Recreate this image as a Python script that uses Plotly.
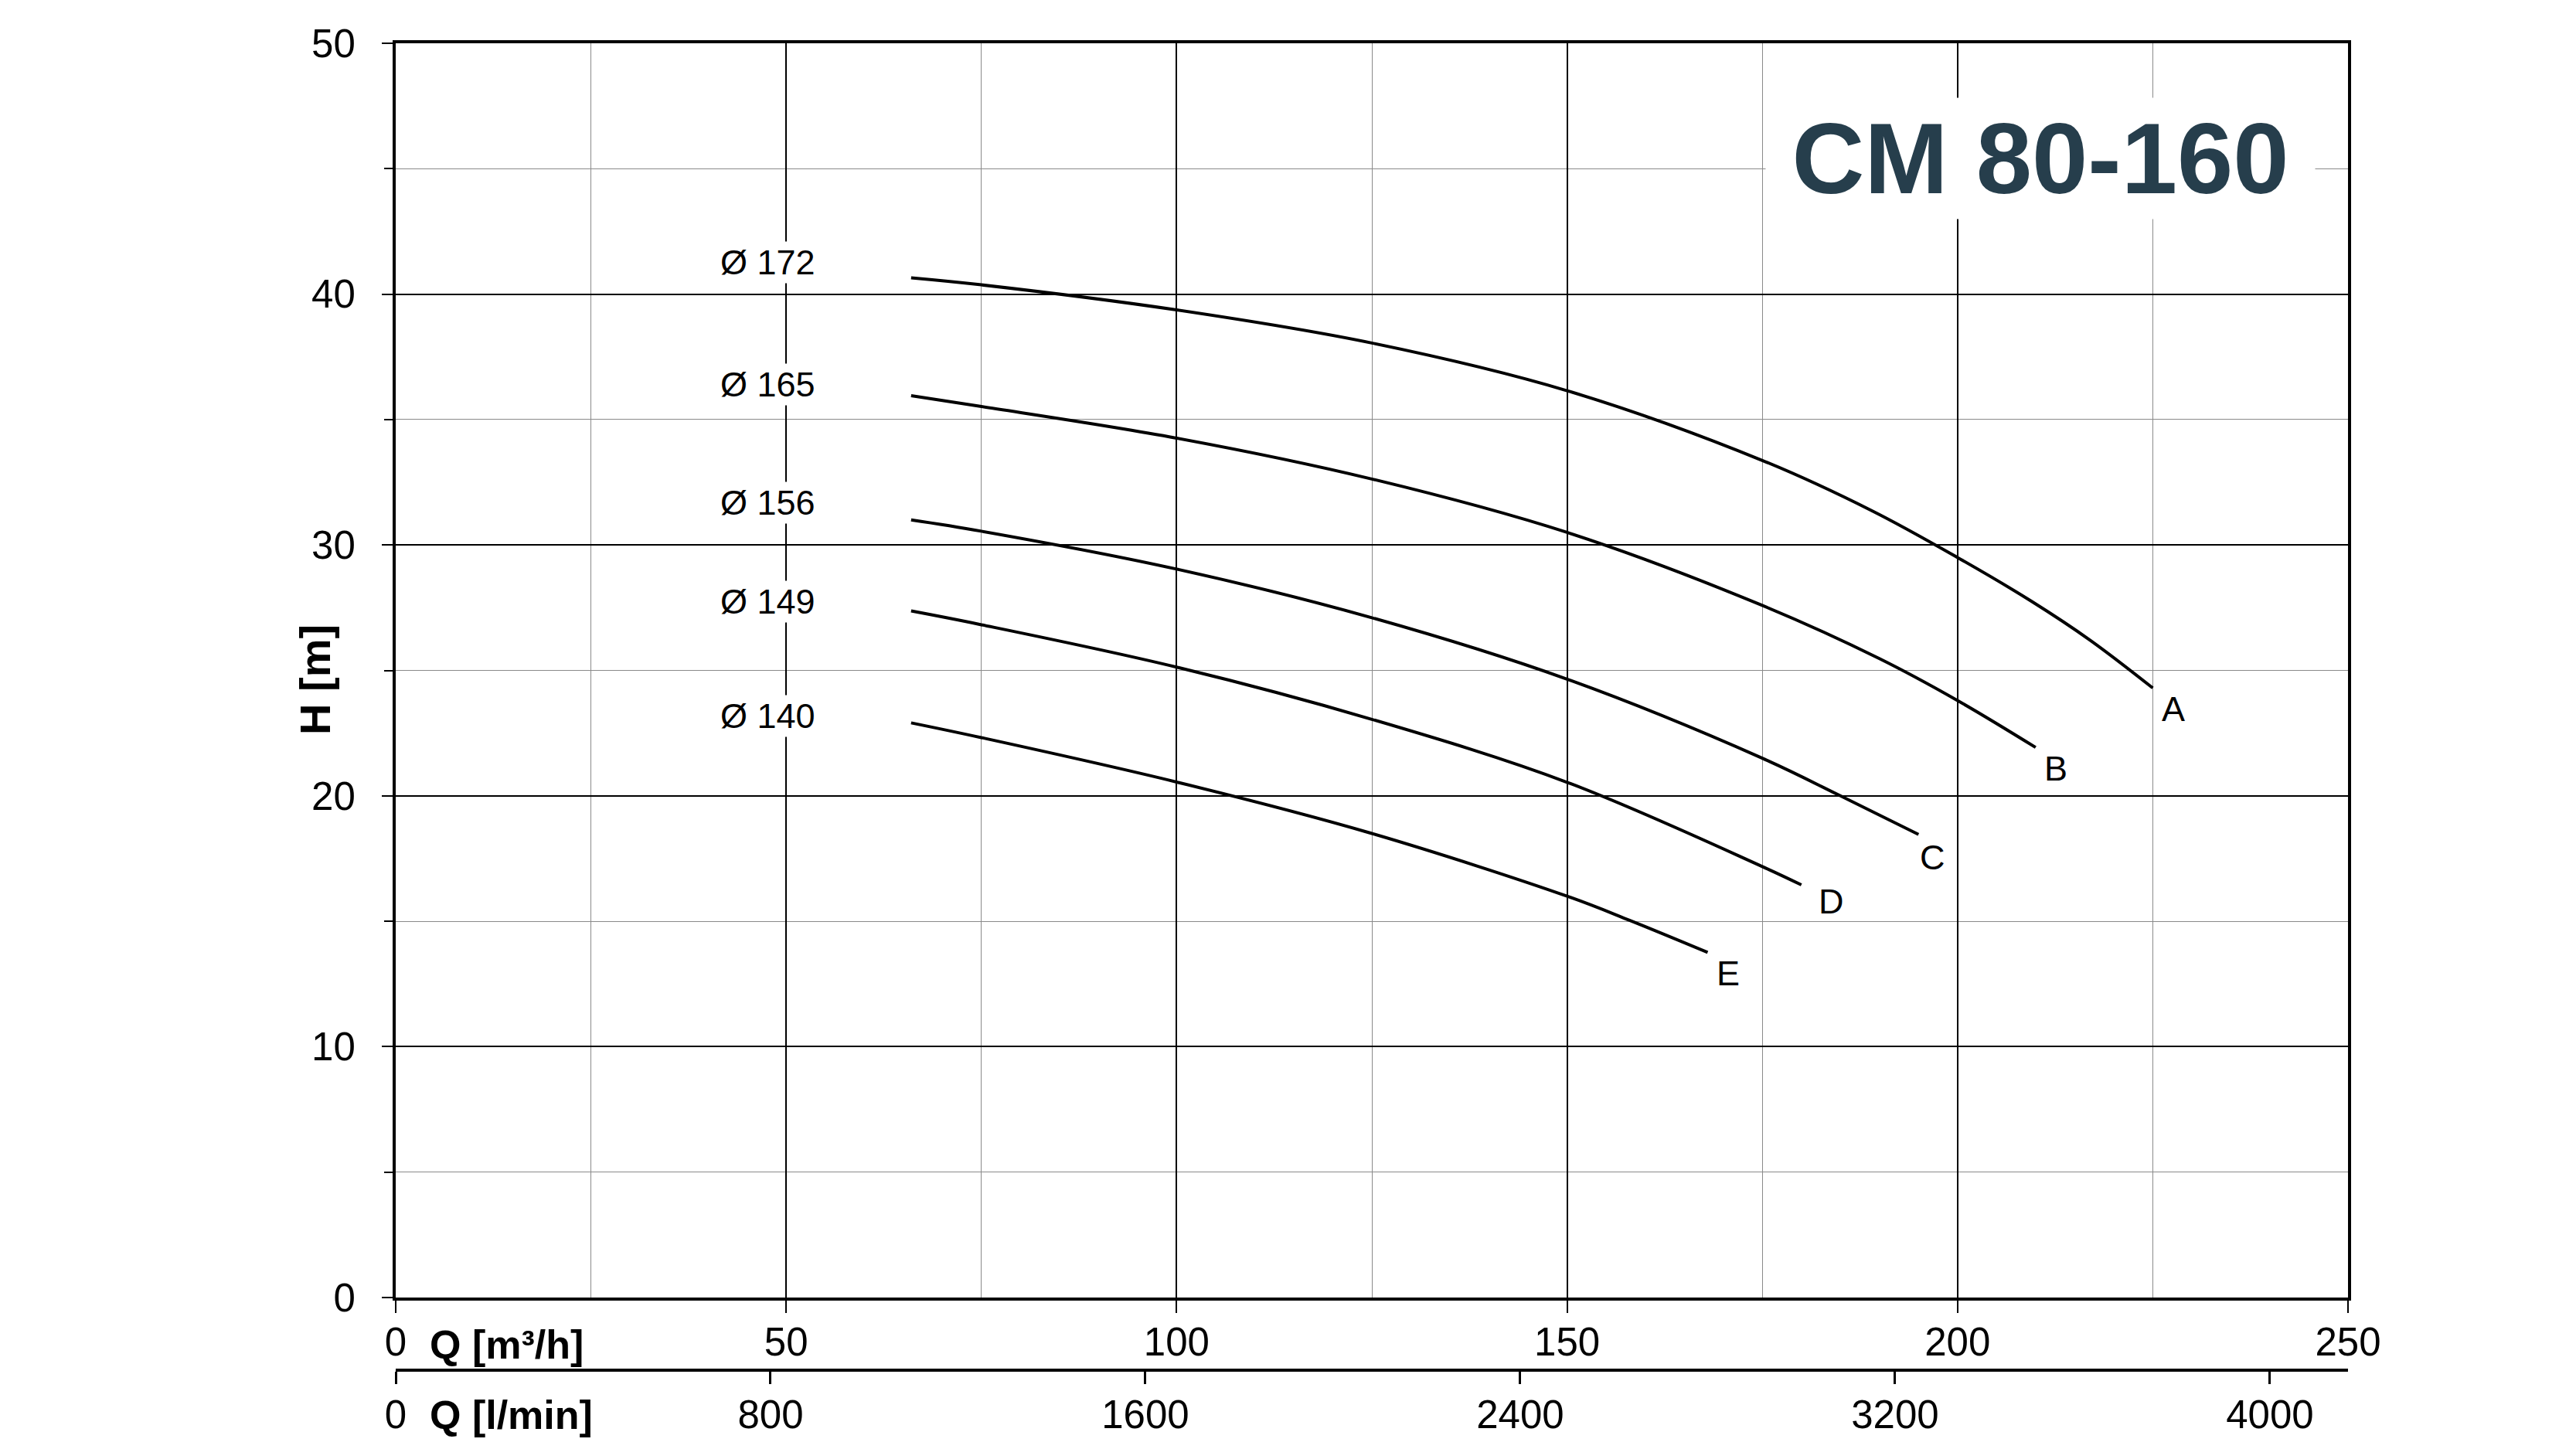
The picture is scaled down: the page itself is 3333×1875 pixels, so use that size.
import plotly.graph_objects as go

# Q in m3/h, H in m
q_a = [66, 75, 100, 125, 150, 175, 189, 200, 209.5, 217, 225]
h_a = [40.65, 40.37, 39.37, 38.05, 36.15, 33.37, 31.37, 29.5, 27.75, 26.2, 24.3]
q_b = [66, 75, 100, 125, 150, 175, 190, 200, 210]
h_b = [35.95, 35.52, 34.26, 32.63, 30.5, 27.59, 25.47, 23.8, 21.93]
q_c = [66, 75, 100, 125, 150, 175, 185, 195]
h_c = [31.0, 30.55, 29.04, 27.1, 24.65, 21.5, 20.0, 18.46]
q_d = [66, 75, 100, 125, 150, 175, 180]
h_d = [27.37, 26.82, 25.13, 23.05, 20.54, 17.18, 16.45]
q_e = [66, 75, 100, 125, 150, 158, 168]
h_e = [22.91, 22.32, 20.55, 18.5, 16.0, 15.04, 13.76]

curve_names = ["A", "B", "C", "D", "E"]
diameters = ["Ø 172", "Ø 165", "Ø 156", "Ø 149", "Ø 140"]

q_ticks = [0, 50, 100, 150, 200, 250]
lmin_ticks = [0, 800, 1600, 2400, 3200, 4000]
h_ticks = [0, 10, 20, 30, 40, 50]

FONT = "Liberation Sans, Arial, sans-serif"
W, H = 3333, 1875
L, R, T, B = 504, 303, 48, 110
PAPER_H = H - T - B


def py(px):
    # pixel row -> paper fraction
    return (H - B - px) / PAPER_H


def px_x(px):
    return (px - L) / (W - L - R)


curves = [(q_a, h_a), (q_b, h_b), (q_c, h_c), (q_d, h_d), (q_e, h_e)]
# label offsets in px (end letter, diameter tag)
end_shift = [(27, -27), (26, -27), (18, -30), (39, -21), (27, -27)]
dia_shift = [20, 15, 22, 12, 9]

fig = go.Figure()

for (qs, hs), name, dia, (ex, ey), dy in zip(curves, curve_names, diameters, end_shift, dia_shift):
    fig.add_trace(
        go.Scatter(
            x=qs,
            y=hs,
            mode="lines",
            line=dict(color="black", width=4, shape="spline", smoothing=1),
            name=name,
            showlegend=False,
            hoverinfo="skip",
        )
    )
    fig.add_annotation(
        x=qs[-1], y=hs[-1], text=name, showarrow=False,
        xanchor="center", yanchor="middle", xshift=ex, yshift=ey,
        font=dict(family=FONT, size=45, color="black"),
    )
    fig.add_annotation(
        x=qs[0], y=hs[0], text=dia, showarrow=False,
        xanchor="right", yanchor="middle", xshift=-122, yshift=dy,
        bgcolor="white", borderpad=1,
        font=dict(family=FONT, size=45, color="black"),
    )

# invisible trace so the l/min axis gets drawn
fig.add_trace(
    go.Scatter(
        x=[q * 1000 / 60 for q in q_a],
        y=h_a,
        xaxis="x2",
        mode="lines",
        line=dict(width=0),
        opacity=0,
        showlegend=False,
        hoverinfo="skip",
    )
)

fig.add_annotation(
    xref="paper", yref="paper", x=px_x(2632), y=py(197),
    xanchor="center", yanchor="middle",
    text="<b>CM 80-160</b>", showarrow=False,
    width=710, height=156, bgcolor="white", borderpad=0,
    font=dict(family=FONT, size=130, color="#263e4c"),
)
fig.add_annotation(
    xref="paper", yref="paper", x=px_x(400), y=py(872),
    xanchor="center", yanchor="middle",
    text="<b>H [m]</b>", textangle=-90, showarrow=False,
    font=dict(family=FONT, size=56, color="black"),
)
fig.add_annotation(
    xref="paper", yref="paper", x=px_x(546), y=py(1732),
    text="<b>Q [m³/h]</b>", showarrow=False, xanchor="left", yanchor="middle",
    font=dict(family=FONT, size=52, color="black"),
)
fig.add_annotation(
    xref="paper", yref="paper", x=px_x(546), y=py(1823),
    text="<b>Q [l/min]</b>", showarrow=False, xanchor="left", yanchor="middle",
    font=dict(family=FONT, size=52, color="black"),
)

fig.update_layout(
    width=W,
    height=H,
    margin=dict(l=L, r=R, t=T, b=B),
    plot_bgcolor="white",
    paper_bgcolor="white",
    font=dict(family=FONT, size=51, color="black"),
    xaxis=dict(
        range=[0, 250],
        tickvals=q_ticks,
        showgrid=True,
        gridcolor="black",
        gridwidth=1.5,
        minor=dict(dtick=25, showgrid=True, gridcolor="#8a8a8a", gridwidth=1, ticks=""),
        ticks="outside",
        ticklen=16,
        tickwidth=1.5,
        tickcolor="black",
        ticklabelstandoff=-6,
        showline=True,
        linecolor="black",
        linewidth=4,
        mirror=True,
        zeroline=False,
        tickfont=dict(family=FONT, size=51),
    ),
    xaxis2=dict(
        range=[0, 250 * 1000 / 60],
        overlaying="x",
        anchor="free",
        position=0,
        side="bottom",
        tickvals=lmin_ticks,
        showgrid=False,
        ticks="outside",
        ticklen=16,
        tickwidth=3,
        tickcolor="black",
        ticklabelstandoff=-4,
        showline=True,
        linecolor="black",
        linewidth=4,
        zeroline=False,
        tickfont=dict(family=FONT, size=51),
    ),
    yaxis=dict(
        range=[0, 50],
        domain=[(1765 - 1671) / PAPER_H, 1],
        tickvals=h_ticks,
        showgrid=True,
        gridcolor="black",
        gridwidth=1.5,
        minor=dict(
            dtick=5, showgrid=True, gridcolor="#8a8a8a", gridwidth=1,
            ticks="outside", ticklen=11, tickwidth=1.5, tickcolor="black",
        ),
        ticks="outside",
        ticklen=14,
        tickwidth=1.5,
        tickcolor="black",
        ticklabelstandoff=24,
        showline=True,
        linecolor="black",
        linewidth=4,
        mirror=True,
        zeroline=False,
        tickfont=dict(family=FONT, size=51),
    ),
)

fig.write_html("out.html")
